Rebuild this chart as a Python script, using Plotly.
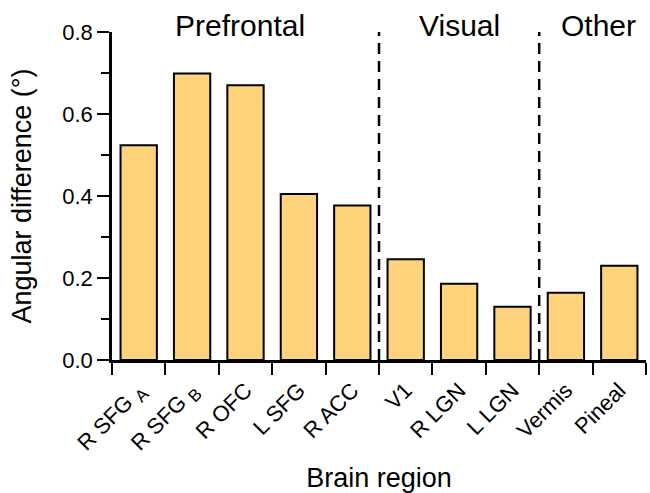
import plotly.graph_objects as go

# Brain regions and their mean angular difference (degrees)
regions = ["R SFG <sub><span style='font-size:17px'>A</span></sub>",
           "R SFG <sub><span style='font-size:17px'>B</span></sub>",
           "R OFC", "L SFG", "R ACC", "V1", "R LGN", "L LGN", "Vermis", "Pineal"]
angular_diff = [0.524, 0.699, 0.670, 0.405, 0.377, 0.246, 0.186, 0.130, 0.164, 0.230]

# Region groups: label, centre (category units), and separator positions
group_labels = ["Prefrontal", "Visual", "Other"]
group_centres = [1.9, 6.0, 8.61]
separators = [4.5, 7.5]

FONT = "Liberation Sans, Arial, Helvetica, sans-serif"

fig = go.Figure(
    go.Bar(
        x=regions,
        y=angular_diff,
        marker=dict(color="#FFD37B", line=dict(color="black", width=2)),
        width=0.68,
    )
)

for sx in separators:
    fig.add_shape(type="line", xref="x", yref="y", x0=sx, x1=sx, y0=0, y1=0.8,
                  line=dict(color="black", width=2.5, dash="11px,7px"))

for label, cx in zip(group_labels, group_centres):
    fig.add_annotation(text=label, x=cx, xref="x", y=1.0, yref="paper",
                       yanchor="bottom", xanchor="center", showarrow=False,
                       yshift=-12, font=dict(family=FONT, size=30, color="black"))

fig.update_layout(
    width=650, height=493,
    margin=dict(l=112, r=4, t=32, b=133),
    plot_bgcolor="white", paper_bgcolor="white",
    showlegend=False,
    font=dict(family=FONT, color="black"),
)

fig.update_xaxes(
    type="category",
    range=[-0.5, 9.5],
    showline=True, linecolor="black", linewidth=2.5,
    ticks="outside", tickson="boundaries", ticklen=12, tickwidth=2, tickcolor="black",
    tickangle=-45, tickfont=dict(family=FONT, size=22, color="black"),
    ticklabelstandoff=6,
    showgrid=False, zeroline=False,
    title=dict(text="Brain region", font=dict(family=FONT, size=27, color="black"), standoff=24),
    automargin=False,
)

fig.update_yaxes(
    range=[0, 0.8],
    tickvals=[0, 0.2, 0.4, 0.6, 0.8], tickformat=".1f",
    showline=True, linecolor="black", linewidth=2.5,
    ticks="outside", ticklen=12, tickwidth=2, tickcolor="black",
    minor=dict(dtick=0.1, ticks="outside", ticklen=8, tickwidth=2, tickcolor="black"),
    tickfont=dict(family=FONT, size=22, color="black"),
    showgrid=False, zeroline=False,
    title=dict(text="Angular difference (°)", font=dict(family=FONT, size=27, color="black"), standoff=23),
    automargin=False,
)

fig.write_html("out.html")
